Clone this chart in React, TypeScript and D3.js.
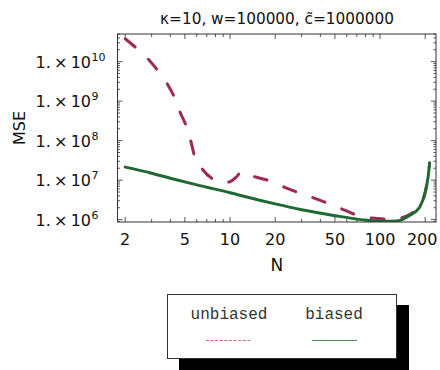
import React, { useEffect, useRef } from "react";
import * as d3 from "d3";

// values (N on log axis, MSE on log axis)
const unbiasedN = [2, 2.43, 2.9, 3.38, 3.87, 4.3, 4.66, 5.16, 5.5, 5.82, 6.56, 7.83, 9, 10, 11, 12, 13, 14.8, 18.6, 23.4, 29.5, 36, 51.8, 73.6, 95, 120, 151, 170, 184, 199, 209, 214];
const unbiasedMSE = [3.8e10, 2.04e10, 1.07e10, 5.25e9, 2.5e9, 1.15e9, 5.1e8, 2.1e8, 9.1e7, 3.8e7, 1.86e7, 1.02e7, 8.7e6, 9.1e6, 1.2e7, 1.66e7, 1.41e7, 1.2e7, 9.5e6, 6.5e6, 4.6e6, 3.55e6, 2.1e6, 1.23e6, 1.07e6, 1.02e6, 1.25e6, 1.6e6, 2.1e6, 4.6e6, 1.2e7, 2.7e7];
const biasedN = [2, 3, 4, 6, 10, 15, 20, 30, 50, 75, 100, 130, 158, 184, 199, 209, 214];
const biasedMSE = [2.14e7, 1.5e7, 1.12e7, 7.6e6, 4.8e6, 3.24e6, 2.5e6, 1.78e6, 1.26e6, 1.0e6, 9.1e5, 9.3e5, 1.29e6, 2.1e6, 4.6e6, 1.2e7, 2.7e7];

const xTickValues = [2, 5, 10, 20, 50, 100, 200];
const yTickExponents = [6, 7, 8, 9, 10];
const legendLabels = ["unbiased", "biased"];

const W = 440;
const H = 370;
const frame = { left: 117.5, right: 436, top: 34, bottom: 222 };

export default function App() {
  const ref = useRef<SVGSVGElement>(null);

  useEffect(() => {
    const svg = d3.select(ref.current);
    svg.selectAll("*").remove();

    const x = d3.scaleLog().domain([1.777, 236]).range([frame.left, frame.right]);
    const y = d3.scaleLog().domain([Math.pow(10, 5.94), Math.pow(10, 10.70)]).range([frame.bottom, frame.top]);

    const sans = "DejaVu Sans, sans-serif";

    // clip for curves
    svg.append("defs").append("clipPath").attr("id", "plotclip")
      .append("rect")
      .attr("x", frame.left).attr("y", frame.top)
      .attr("width", frame.right - frame.left).attr("height", frame.bottom - frame.top);

    // minor / major ticks
    const ticks = svg.append("g").attr("stroke", "#555").attr("stroke-width", 1);
    const xMinor: number[] = [];
    [1, 10, 100].forEach((dec) => {
      for (let k = 1; k <= 9; k++) {
        const v = k * dec;
        if (v >= 2 && v <= 230) xMinor.push(v);
      }
    });
    xMinor.forEach((v) => {
      const major = xTickValues.includes(v);
      const len = major ? 5 : 3;
      const px = x(v);
      ticks.append("line").attr("x1", px).attr("x2", px).attr("y1", frame.bottom).attr("y2", frame.bottom - len);
      ticks.append("line").attr("x1", px).attr("x2", px).attr("y1", frame.top).attr("y2", frame.top + len);
    });
    const yMinor: number[] = [];
    for (let e = 5; e <= 10; e++) {
      for (let k = 1; k <= 9; k++) {
        const v = k * Math.pow(10, e);
        if (v >= y.domain()[0] && v <= y.domain()[1]) yMinor.push(v);
      }
    }
    yMinor.forEach((v) => {
      const major = Math.abs(Math.log10(v) - Math.round(Math.log10(v))) < 1e-9;
      const len = major ? 5 : 2.5;
      const py = y(v);
      ticks.append("line").attr("x1", frame.left).attr("x2", frame.left + len).attr("y1", py).attr("y2", py);
      ticks.append("line").attr("x1", frame.right).attr("x2", frame.right - len).attr("y1", py).attr("y2", py);
    });

    // curves
    const line = d3.line<[number, number]>()
      .x((d) => x(d[0]))
      .y((d) => y(d[1]))
      .curve(d3.curveMonotoneX);

    const curves = svg.append("g").attr("clip-path", "url(#plotclip)");
    curves.append("path")
      .datum(unbiasedN.map((n, i) => [n, unbiasedMSE[i]] as [number, number]))
      .attr("d", line)
      .attr("fill", "none")
      .attr("stroke", "#9e2a57")
      .attr("stroke-width", 3)
      .attr("stroke-linecap", "round")
      .attr("stroke-dasharray", "13,18");
    curves.append("path")
      .datum(biasedN.map((n, i) => [n, biasedMSE[i]] as [number, number]))
      .attr("d", line)
      .attr("fill", "none")
      .attr("stroke", "#1f6a33")
      .attr("stroke-width", 3)
      .attr("stroke-linecap", "round");

    // frame
    svg.append("rect")
      .attr("x", frame.left).attr("y", frame.top)
      .attr("width", frame.right - frame.left).attr("height", frame.bottom - frame.top)
      .attr("fill", "none").attr("stroke", "#333").attr("stroke-width", 1);

    // x labels
    svg.append("g").selectAll("text").data(xTickValues).join("text")
      .attr("x", (d) => x(d) - (d === 200 ? 3 : 0))
      .attr("y", 245)
      .attr("text-anchor", "middle")
      .attr("font-family", sans)
      .attr("font-size", 16)
      .attr("fill", "#111")
      .text((d) => String(d));

    // y labels 1.×10^n
    const yl = svg.append("g").attr("font-family", sans).attr("fill", "#111");
    yTickExponents.forEach((e) => {
      const py = y(Math.pow(10, e)) + 6;
      yl.append("text").attr("x", 91).attr("y", py).attr("text-anchor", "end")
        .attr("font-size", 16).text("1.\u2009×\u200910");
      yl.append("text").attr("x", 91.5).attr("y", py - 7).attr("text-anchor", "start")
        .attr("font-size", 11).text(String(e));
    });

    // axis titles
    svg.append("text")
      .attr("x", (frame.left + frame.right) / 2).attr("y", 271)
      .attr("text-anchor", "middle").attr("font-family", sans).attr("font-size", 17)
      .attr("fill", "#111").text("N");
    svg.append("text")
      .attr("transform", `translate(25,${(frame.top + frame.bottom) / 2}) rotate(-90)`)
      .attr("text-anchor", "middle").attr("font-family", sans).attr("font-size", 16)
      .attr("fill", "#111").text("MSE");

    // title
    svg.append("text")
      .attr("x", 277).attr("y", 24)
      .attr("text-anchor", "middle").attr("font-family", sans).attr("font-size", 15.3)
      .attr("fill", "#111").text("\u03BA=10, w=100000, c\u0303=1000000");

    // legend
    const lg = svg.append("g");
    lg.append("rect").attr("x", 179).attr("y", 305).attr("width", 230).attr("height", 65).attr("fill", "#000");
    lg.append("rect").attr("x", 167.5).attr("y", 294.5).attr("width", 229).attr("height", 64)
      .attr("fill", "#fff").attr("stroke", "#333").attr("stroke-width", 1);
    const legendX = [229, 334];
    lg.selectAll("text.lab").data(legendLabels).join("text")
      .attr("class", "lab")
      .attr("x", (_d, i) => legendX[i]).attr("y", 319)
      .attr("text-anchor", "middle")
      .attr("font-family", "Liberation Mono, Courier New, monospace")
      .attr("font-size", 16)
      .attr("fill", "#333")
      .text((d) => d);
    lg.append("line").attr("x1", 206).attr("x2", 252).attr("y1", 340.5).attr("y2", 340.5)
      .attr("stroke", "#d0668c").attr("stroke-width", 1).attr("stroke-dasharray", "3,1.6");
    lg.append("line").attr("x1", 312).attr("x2", 357).attr("y1", 340.5).attr("y2", 340.5)
      .attr("stroke", "#4c8f5d").attr("stroke-width", 1.2);
  }, []);

  return (
    <svg
      ref={ref}
      width={W}
      height={H}
      style={{ position: "absolute", left: 0, top: 0, background: "#fff" }}
    ></svg>
  );
}
